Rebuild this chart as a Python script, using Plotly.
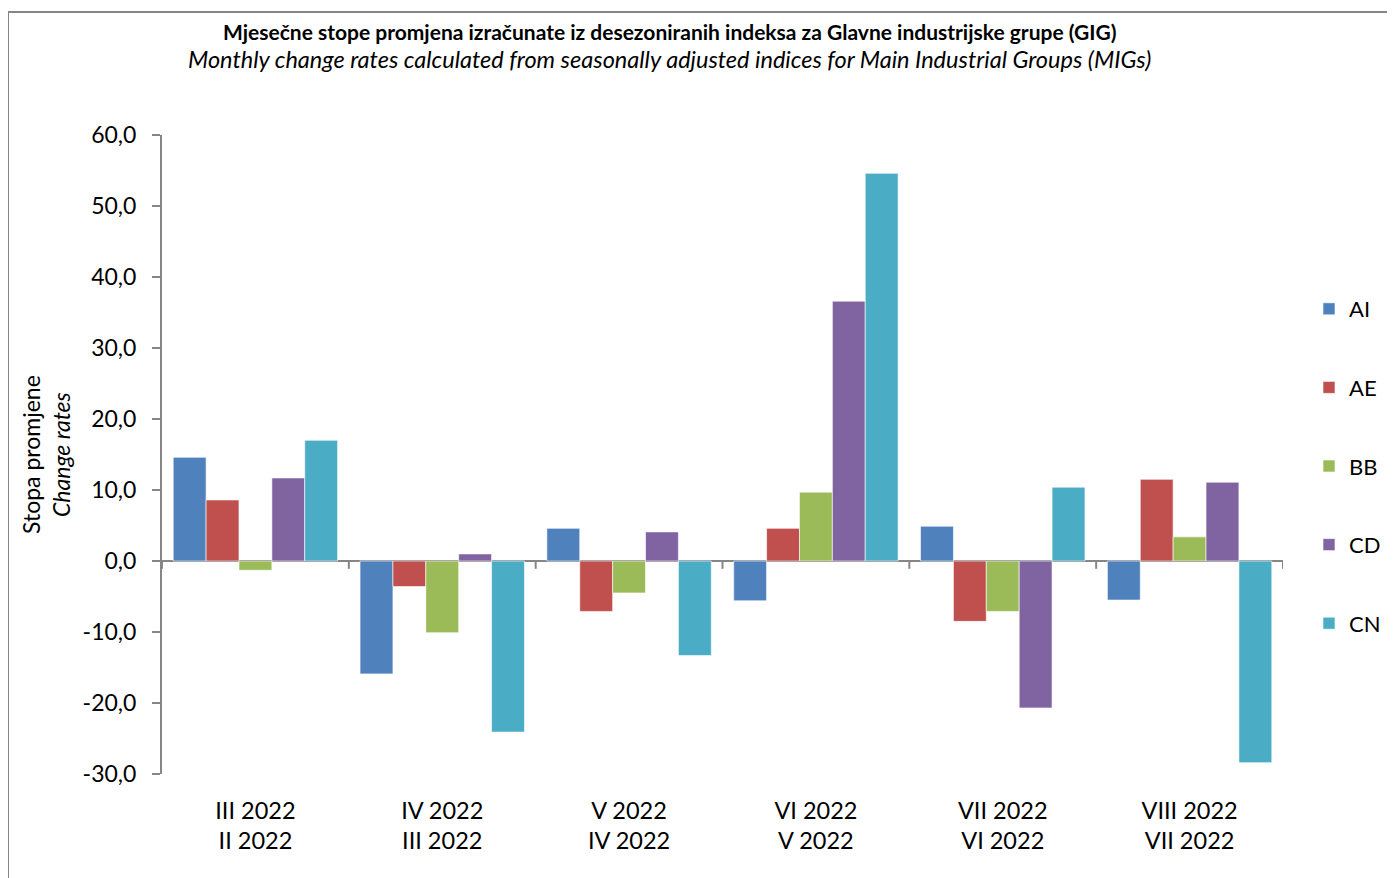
import plotly.graph_objects as go

categories = ["III 2022<br>II 2022", "IV 2022<br>III 2022", "V 2022<br>IV 2022",
              "VI 2022<br>V 2022", "VII 2022<br>VI 2022", "VIII 2022<br>VII 2022"]
series_names = ["AI", "AE", "BB", "CD", "CN"]
AI = [14.6, -15.9, 4.6, -5.6, 4.9, -5.5]
AE = [8.6, -3.6, -7.1, 4.6, -8.5, 11.5]
BB = [-1.3, -10.1, -4.5, 9.7, -7.1, 3.4]
CD = [11.7, 1.0, 4.1, 36.6, -20.7, 11.1]
CN = [17.0, -24.1, -13.3, 54.6, 10.4, -28.4]
colors = ["#4F81BD", "#C0504D", "#9BBB59", "#8064A2", "#4BACC6"]
y_ticks = [-30, -20, -10, 0, 10, 20, 30, 40, 50, 60]
y_ticktext = [f"{v:.1f}".replace(".", ",") for v in y_ticks]

title_line1 = "Mjesečne stope promjena izračunate iz desezoniranih indeksa za Glavne industrijske grupe (GIG)"
title_line2 = "Monthly change rates calculated from seasonally adjusted indices for Main Industrial Groups (MIGs)"

FONT = "Lato"
OFF = 8  # page body margin
W, H = 1395 - OFF, 878 - OFF
L, R, T, B = 154, 112, 127, 104
pw, ph = W - L - R, H - T - B


def px_x(x):  # reference screen x -> paper fraction
    return (x - OFF - L) / pw


def px_y(y):  # reference screen y -> paper fraction
    return 1 - (y - OFF - T) / ph


fig = go.Figure()
for name, vals, col in zip(series_names, [AI, AE, BB, CD, CN], colors):
    fig.add_trace(go.Bar(
        x=list(range(len(categories))), y=vals, name=name, legendgroup=name,
        marker=dict(color=col, line=dict(color="rgba(255,255,255,0.6)", width=1)),
    ))

shapes = []
for i in range(len(categories) + 1):
    shapes.append(dict(type="line", xref="x", yref="y", x0=i - 0.5, x1=i - 0.5,
                       y0=0, y1=-1.1, line=dict(color="#868686", width=2)))
shapes.append(dict(type="rect", xref="paper", yref="paper",
                   x0=px_x(8), x1=px_x(1400), y0=px_y(890), y1=px_y(12),
                   line=dict(color="#868686", width=2), fillcolor="rgba(0,0,0,0)", layer="below"))

annotations = [
    dict(text=f"<b>{title_line1}</b>", xref="paper", yref="paper", x=px_x(670), y=px_y(31),
         xanchor="center", yanchor="middle", showarrow=False, font=dict(size=21)),
    dict(text=f"<i>{title_line2}</i>", xref="paper", yref="paper", x=px_x(669), y=px_y(59),
         xanchor="center", yanchor="middle", showarrow=False, font=dict(size=23.5)),
    dict(text="Stopa promjene<br><i>Change rates</i>", xref="paper", yref="paper",
         x=px_x(46), y=px_y(455), xanchor="center", yanchor="middle", textangle=-90,
         showarrow=False, font=dict(size=23)),
]

fig.update_layout(
    width=W, height=H,
    margin=dict(l=L, r=R, t=T, b=B, autoexpand=False),
    paper_bgcolor="white", plot_bgcolor="white",
    font=dict(family=FONT, color="black", size=22),
    barmode="group", bargap=0.12, bargroupgap=0,
    xaxis=dict(
        tickmode="array", tickvals=list(range(len(categories))), ticktext=categories,
        range=[-0.5, len(categories) - 0.5],
        showline=False, showgrid=False, zeroline=False, ticks="",
        tickfont=dict(size=23.5), ticklabelstandoff=20,
    ),
    yaxis=dict(
        range=[-30, 60], tickmode="array", tickvals=y_ticks, ticktext=y_ticktext,
        showgrid=False, showline=True, linecolor="#868686", linewidth=2,
        ticks="outside", ticklen=8, tickwidth=2, tickcolor="#868686",
        zeroline=True, zerolinecolor="#868686", zerolinewidth=2,
        tickfont=dict(size=23), ticklabelstandoff=11,
    ),
    legend=dict(
        x=px_x(1309), xanchor="left", y=px_y(288), yanchor="top",
        font=dict(size=22), tracegroupgap=47, itemwidth=30,
        bgcolor="rgba(0,0,0,0)",
    ),
    shapes=shapes,
    annotations=annotations,
)

fig.write_html("out.html")
